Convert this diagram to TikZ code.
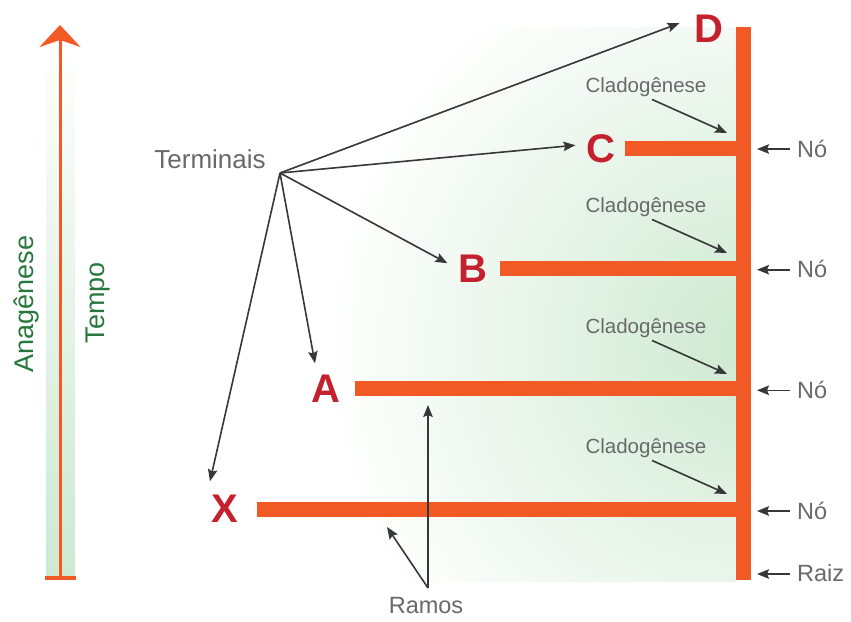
\documentclass[tikz,border=0pt]{standalone}
\usepackage{fontspec}
\setmainfont{Liberation Sans}
\usetikzlibrary{arrows.meta}

\definecolor{branch}{RGB}{241,90,36}
\definecolor{letter}{RGB}{196,32,46}
\definecolor{labelgray}{RGB}{105,105,108}
\definecolor{arrowgray}{RGB}{55,55,57}
\definecolor{timegreen}{RGB}{40,120,62}
\definecolor{wash}{RGB}{206,233,209}
\definecolor{bandgreen}{RGB}{204,233,209}

\begin{document}
\begin{tikzpicture}[x=1pt,y=-1pt,
  branchline/.style={draw=branch, line width=15pt, line cap=butt},
  arr/.style={draw=arrowgray, line width=1.6pt,
    -{Stealth[length=12pt,width=9.5pt,inset=2pt]}},
  taxon/.style={text=letter, inner sep=11pt,
    font=\fontsize{40}{40}\selectfont\bfseries},
  cladolabel/.style={text=labelgray, inner sep=3pt,
    font=\fontsize{20.5}{22}\selectfont},
  sidelabel/.style={text=labelgray, inner sep=0pt, anchor=base west,
    font=\fontsize{23.5}{25}\selectfont},
  timelabel/.style={text=timegreen, inner sep=0pt, rotate=90, anchor=base,
    font=\fontsize{27}{28}\selectfont}]
\useasboundingbox (0,0) rectangle (851,621);

% soft green wash behind the tree
\begin{scope}
  \clip (0,27) rectangle (736,581);
  \shade[inner color=wash, outer color=white] (745,345) circle (420);
\end{scope}

% time axis
\shade[top color=white, bottom color=bandgreen] (46,40) rectangle (75,578);
\coordinate (tbase) at (60,578);
\coordinate (ttop) at (60,25);
\draw[branch, line width=3pt,
  -{Stealth[length=22pt,width=41pt,inset=7pt]}] (tbase) -- (ttop);
\draw[branch, line width=4pt] (45,578) -- (76,578);
\node[timelabel] (anag) at (33,304) {Anagênese};
\node[timelabel] (tempo) at (104,303) {Tempo};

% trunk and branches
\draw[branchline] (743,27) -- (743,580);
\draw[branchline] (625,148) -- (743,148);
\draw[branchline] (500,268) -- (743,268);
\draw[branchline] (355,388) -- (743,388);
\draw[branchline] (257,509) -- (743,509);

% terminal taxa
\node[taxon, anchor=base] (D) at (709,42) {D};
\node[taxon, anchor=base] (C) at (601,162) {C};
\node[taxon, anchor=base] (B) at (473,282) {B};
\node[taxon, anchor=base] (A) at (326,402) {A};
\node[taxon, anchor=base] (X) at (225,522) {X};

% terminals fan
\node[text=labelgray, inner sep=0pt, anchor=base,
  font=\fontsize{26}{27}\selectfont] (term) at (210,168) {Terminais};
\coordinate (fan) at (280,173);
\draw[arr] (fan) -- ([shift={(-4,-5)}]D.west);
\draw[arr] (fan) -- ([shift={(0,-3)}]C.west);
\draw[arr] (fan) -- ([shift={(0,-5)}]B.west);
\draw[arr] (fan) -- ([shift={(-11,0)}]A.north);
\draw[arr] (fan) -- ([shift={(-15,-2)}]X.north);

% cladogenesis events
\foreach \i/\yb/\yk in {1/92/133, 2/212/253, 3/333/374, 4/453/494}{
  \node[cladolabel, anchor=base] (cl\i) at (646,\yb) {Cladogênese};
  \coordinate (k\i) at (727,\yk);
  \draw[arr] ([shift={(6,0)}]cl\i.south) -- (k\i);
}

% nodes and root
\foreach \i/\yb/\ya in {1/157/149, 2/277.7/269.7, 3/398.3/390.3, 4/519/511}{
  \node[sidelabel] (no\i) at (797,\yb) {Nó};
  \coordinate (n\i) at (757,\ya);
  \draw[arr] ([shift={(-7,-8)}]no\i.base west) -- (n\i);
}
\node[sidelabel] (raiz) at (797,581) {Raiz};
\coordinate (rt) at (757,574);
\draw[arr] ([shift={(-7,-7)}]raiz.base west) -- (rt);

% branches label
\node[text=labelgray, inner sep=0pt, anchor=base,
  font=\fontsize{23.5}{25}\selectfont] (ramos) at (426,613) {Ramos};
\coordinate (r1) at (428,405);
\coordinate (r2) at (387,527);
\draw[arr] ([shift={(2,-25)}]ramos.base) -- (r1);
\draw[arr] ([shift={(2,-25)}]ramos.base) -- (r2);
\end{tikzpicture}
\end{document}
